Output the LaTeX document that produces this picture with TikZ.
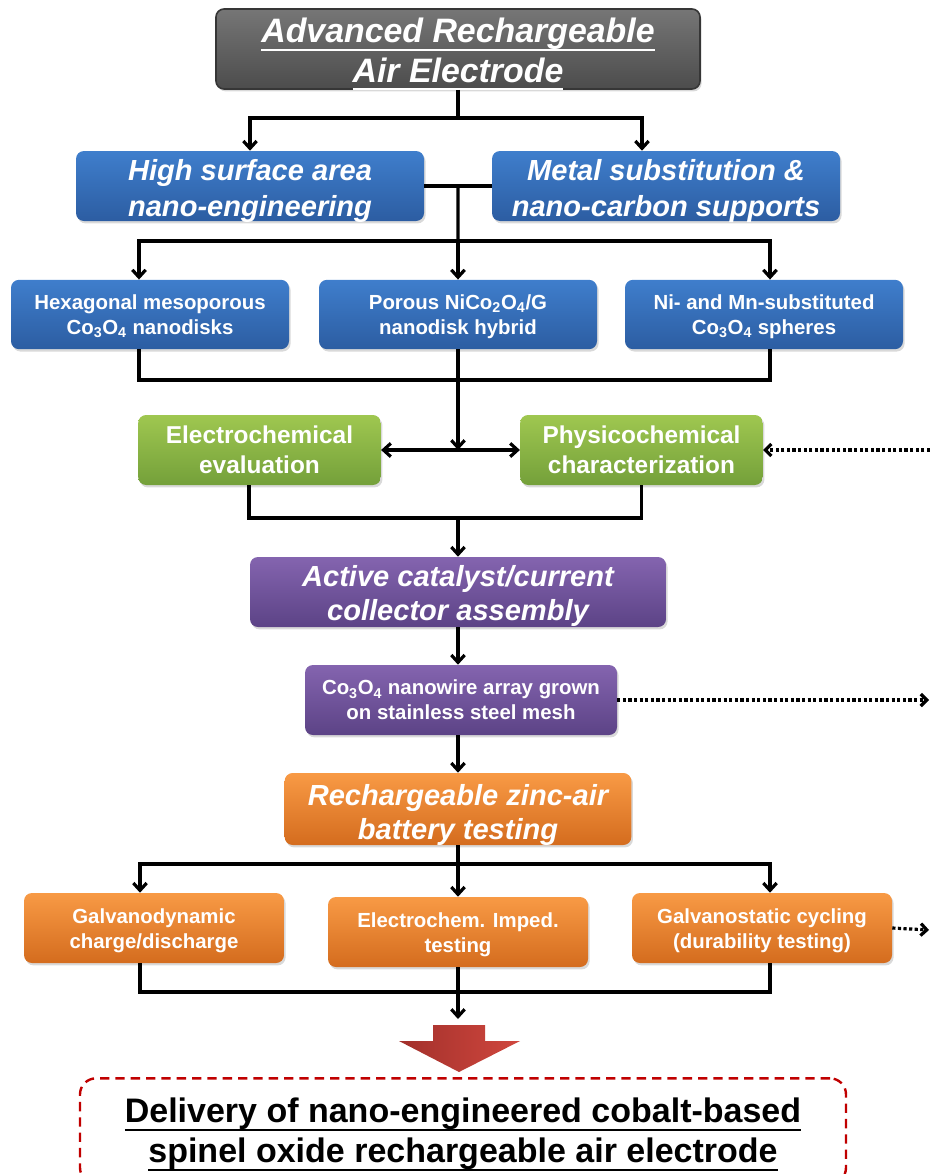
\documentclass[tikz,border=0pt]{standalone}
\usepackage{fontspec}
\setmainfont{Liberation Sans}
\usetikzlibrary{arrows.meta,calc,positioning,shadows}
\definecolor{greyT}{HTML}{767676}
\definecolor{greyB}{HTML}{4C4C4C}
\definecolor{greyD}{HTML}{363636}
\definecolor{blueT}{HTML}{3F7ECC}
\definecolor{blueB}{HTML}{2C5DA2}
\definecolor{greenT}{HTML}{9FC750}
\definecolor{greenB}{HTML}{74A03A}
\definecolor{purpT}{HTML}{8464AF}
\definecolor{purpB}{HTML}{5C4386}
\definecolor{oranT}{HTML}{F89A45}
\definecolor{oranB}{HTML}{D46C1E}
\definecolor{redL}{HTML}{A2302B}
\definecolor{redR}{HTML}{D0473E}
\definecolor{dashred}{HTML}{C00000}
% thick underline: #1 = drop below baseline
\newcommand{\thickul}[2][-6pt]{\setbox0=\hbox{#2}\rlap{\rule[#1]{\wd0}{1.6pt}}\box0}
% invisible strut on the first line, and a last line with its depth hidden
\newcommand{\sdrop}[1]{\rule{0pt}{#1}}
\newcommand{\lastln}[2][0pt]{\raisebox{0pt}[\height][#1]{#2}}
\tikzset{
    x=0.75pt, y=-0.75pt,
    wire/.style={line width=2.4pt, draw=black},
    arr/.style={wire, -{Straight Barb[length=5.5pt,width=10pt]}},
    dbl/.style={wire, {Straight Barb[length=5.5pt,width=10pt]}-{Straight Barb[length=5.5pt,width=10pt]}},
    dots/.style={line width=2.4pt, dash pattern=on 2.4pt off 1.8pt, -{Straight Barb[length=4.5pt,width=9pt]}},
    box/.style={rounded corners=6pt, align=center, text=white, inner sep=2pt,
        drop shadow={opacity=0.3, shadow xshift=1.2pt, shadow yshift=-1.8pt}},
    greybox/.style={box, top color=greyT, bottom color=greyB, draw=greyD, line width=1.2pt,
        minimum width=363pt, minimum height=60pt,
        font=\bfseries\itshape\fontsize{25.4}{29.5}\selectfont},
    bluehead/.style={box, top color=blueT, bottom color=blueB,
        minimum width=261pt, minimum height=52.5pt,
        font=\bfseries\itshape\fontsize{21.8}{26.5}\selectfont},
    bluesmall/.style={box, top color=blueT, bottom color=blueB,
        minimum width=208.5pt, minimum height=52pt,
        font=\bfseries\fontsize{15.3}{18.5}\selectfont},
    greenbox/.style={box, top color=greenT, bottom color=greenB,
        minimum width=182pt, minimum height=52.5pt,
        font=\bfseries\fontsize{18.3}{22.5}\selectfont},
    purphead/.style={box, top color=purpT, bottom color=purpB,
        minimum width=312pt, minimum height=52.5pt,
        font=\bfseries\itshape\fontsize{21.8}{25}\selectfont},
    purpsmall/.style={box, top color=purpT, bottom color=purpB,
        minimum width=234pt, minimum height=52.5pt,
        font=\bfseries\fontsize{15.3}{18.5}\selectfont},
    oranhead/.style={box, top color=oranT, bottom color=oranB,
        minimum width=260pt, minimum height=54pt,
        font=\bfseries\itshape\fontsize{21.8}{25.5}\selectfont},
    oransmall/.style={box, top color=oranT, bottom color=oranB,
        minimum width=195pt, minimum height=52.5pt,
        font=\bfseries\fontsize{15.3}{18.5}\selectfont},
    goal/.style={rounded corners=12pt, draw=dashred, line width=1.8pt, dash pattern=on 7pt off 4.5pt,
        align=center, minimum width=574.5pt, minimum height=79pt,
        font=\bfseries\fontsize{25.5}{30}\selectfont}
}

\begin{document}
\begin{tikzpicture}
    \useasboundingbox (0,0) rectangle (930,1174);
    \clip (0,0) rectangle (930,1174);

    % boxes
    \node[greybox] (top) at (458,49) {\sdrop{20pt}\thickul{Advanced Rechargeable}\\\lastln{\thickul{Air Electrode}}};
    \node[bluehead] (hsa) at (250,186) {\sdrop{18.7pt}High surface area\\\lastln{nano-engineering}};
    \node[bluehead] (msub) at (666,186) {\sdrop{18.7pt}Metal substitution \&\\\lastln{nano-carbon supports}};
    \node[bluesmall] (hex) at (150,314.5) {Hexagonal mesoporous\\\lastln{Co\textsubscript{3}O\textsubscript{4} nanodisks}};
    \node[bluesmall] (nico) at (458,314.5) {Porous NiCo\textsubscript{2}O\textsubscript{4}/G\\\lastln{nanodisk hybrid}};
    \node[bluesmall] (nimn) at (764,314.5) {Ni- and Mn-substituted\\\lastln{Co\textsubscript{3}O\textsubscript{4} spheres}};
    \node[greenbox] (echem) at (259.5,450) {Electrochemical\\evaluation};
    \node[greenbox] (phys) at (641.5,450) {Physicochemical\\characterization};
    \node[purphead] (acc) at (458,592) {\sdrop{17.2pt}Active catalyst/current\\\lastln{collector assembly}};
    \node[purpsmall] (nw) at (461,700) {Co\textsubscript{3}O\textsubscript{4} nanowire array grown\\on stainless steel mesh};
    \node[oranhead] (zab) at (458,809) {\sdrop{20.2pt}Rechargeable zinc-air\\\lastln{battery testing}};
    \node[oransmall] (gdc) at (154,928) {\sdrop{12.2pt}Galvanodynamic\\\lastln{charge/discharge}};
    \node[oransmall] (eis) at (458,932) {\sdrop{12.2pt}Electrochem. Imped.\\\lastln{testing}};
    \node[oransmall] (gcyc) at (762,928) {\sdrop{12.2pt}Galvanostatic cycling\\\lastln{(durability testing)}};
    \node[goal] (deliv) at (463,1131) {\thickul[-6.5pt]{Delivery of nano-engineered cobalt-based}\\\lastln[2pt]{\thickul[-6.5pt]{spinel oxide rechargeable air electrode}}};

    % junctions and free ends
    \coordinate (f1) at (458,118);
    \coordinate (f2) at (458,241);
    \coordinate (f3) at (458,380);
    \coordinate (f5) at (458,518);
    \coordinate (f6) at (458,864);
    \coordinate (f7) at (458,992);
    \coordinate (redtop) at (458,1019);
    \coordinate (edge1) at (930,450);
    \coordinate (edge2) at (929,700);
    \coordinate (edge3) at (929,930);

    % electrode to strategies
    \draw[wire] (top.south) -- (f1);
    \draw[arr] (f1) -| (hsa.north);
    \draw[arr] (f1) -| ($(msub.north)+(-24,0)$);

    % strategies to materials
    \draw[wire] (hsa.east) -- (msub.west);
    \draw[wire] ($(hsa.east)!0.5!(msub.west)$) -- (f2);
    \draw[arr] (f2) -| ($(hex.north)+(-11,0)$);
    \draw[arr] (f2) -- (nico.north);
    \draw[arr] (f2) -| ($(nimn.north)+(6,0)$);

    % materials to evaluation
    \draw[wire] ($(hex.south)+(-11,0)$) |- (f3) -| ($(nimn.south)+(6,0)$);
    \draw[wire] (nico.south) -- (f3);
    \draw[arr] (f3) -- (f3 |- echem.east);
    \draw[dbl] (echem.east) -- (phys.west);
    \draw[dots] (edge1) -- (phys.east);

    % evaluation to assembly
    \draw[wire] ($(echem.south)+(-10.5,0)$) |- (f5) -| (phys.south);
    \draw[arr] (f5) -- (acc.north);
    \draw[arr] (acc.south) -- (acc.south |- nw.north);
    \draw[dots] (nw.east) -- (edge2);
    \draw[arr] (acc.south |- nw.south) -- (zab.north);

    % battery testing
    \draw[wire] (zab.south) -- (f6);
    \draw[arr] (f6) -| ($(gdc.north)+(-14,0)$);
    \draw[arr] (f6) -- (eis.north);
    \draw[arr] (f6) -| ($(gcyc.north)+(8,0)$);
    \draw[dots] (gcyc.east) -- (edge3);
    \draw[wire] ($(gdc.south)+(-14,0)$) |- (f7) -| ($(gcyc.south)+(8,0)$);
    \draw[wire] (eis.south) -- (f7);
    \draw[arr] (f7) -- (redtop);

    % big arrow to delivery
    \shade[left color=redL, right color=redR] (433,1025) -- (485,1025) -- (485,1041) -- (520,1041)
        -- (459,1072) -- (399,1041) -- (433,1041) -- cycle;
\end{tikzpicture}
\end{document}
